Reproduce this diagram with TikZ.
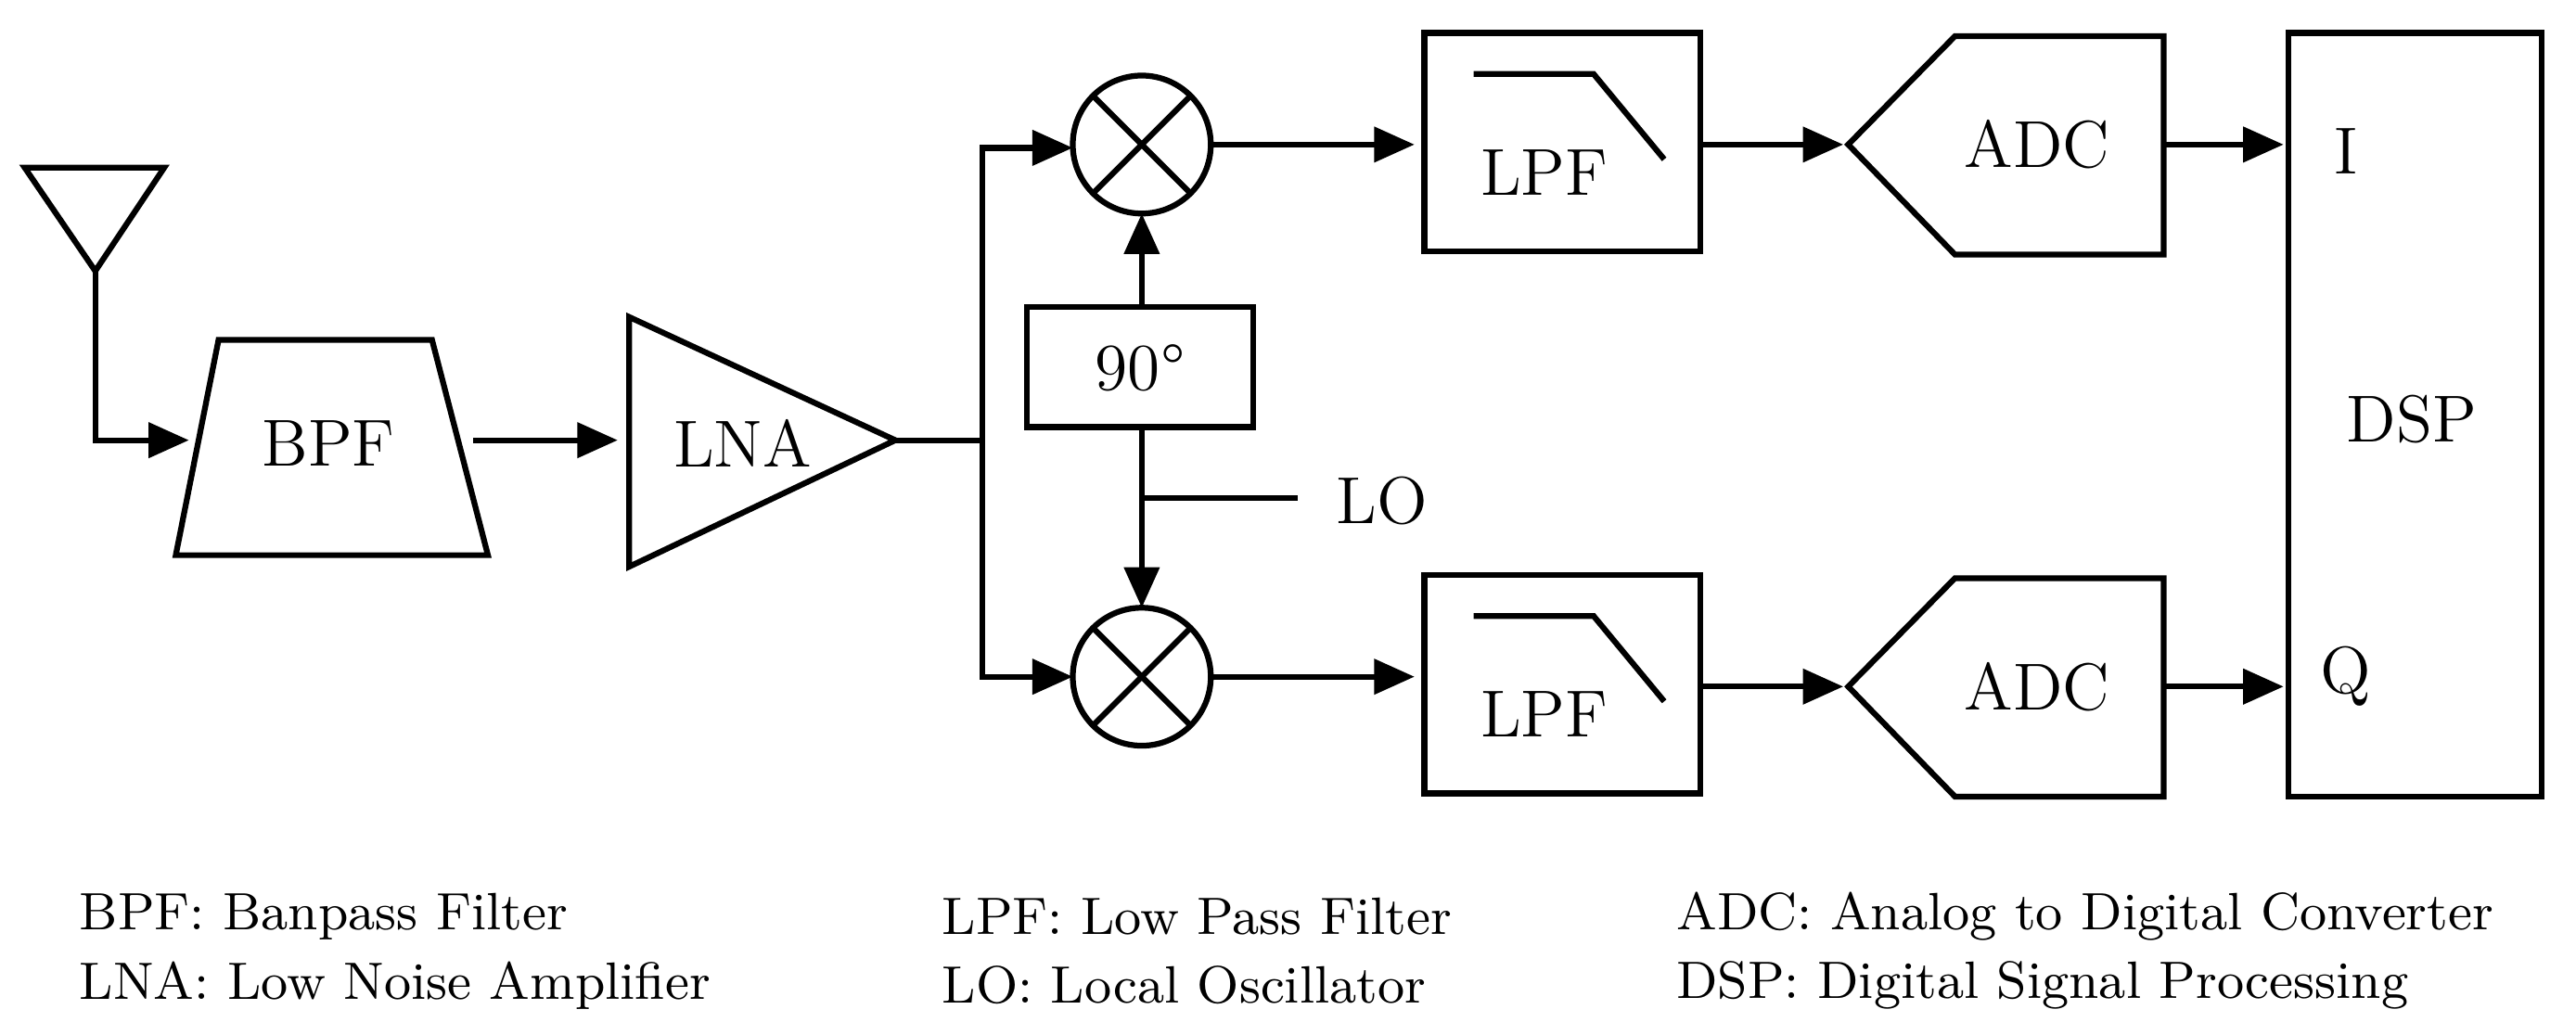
\documentclass[tikz,border=0pt]{standalone}
\usetikzlibrary{arrows.meta}
\begin{document}
\begin{tikzpicture}[x=0.01cm,y=-0.01cm,line width=1pt,
  arr/.style={-{Triangle[length=7pt,width=6pt]}},
  lbl/.style={font=\fontsize{11.5}{12}\selectfont},
  leg/.style={font=\fontsize{9.1}{10}\selectfont,anchor=west}]
\useasboundingbox (0,0) rectangle (1568,630);
% antenna
\draw (15,102) -- (100,102) -- (58,165) -- cycle;
\coordinate (ant) at (58,165);
\coordinate (antc) at (58,268);
% BPF
\draw (133,207) -- (263,207) -- (297,338) -- (107,338) -- cycle;
\node[lbl] (bpf) at (200,270) {BPF};
\coordinate (bpfin) at (115,268);
\draw[arr] (ant) -- (antc) -- (bpfin);
\coordinate (bpfout) at (288,268);
% LNA
\draw (383,193) -- (545,268) -- (383,345) -- cycle;
\node[lbl] (lna) at (452,270) {LNA};
\coordinate (lnain) at (376,268);
\draw[arr] (bpfout) -- (lnain);
\coordinate (lnaout) at (545,268);
\coordinate (split) at (598,268);
\coordinate (st) at (598,90);
\coordinate (sb) at (598,412);
\draw (lnaout) -- (split);
% mixers
\foreach \n/\y in {mt/88,mb/412}{
  \draw (695,\y) circle (42);
  \draw (695-29.7,\y-29.7) -- (695+29.7,\y+29.7);
  \draw (695-29.7,\y+29.7) -- (695+29.7,\y-29.7);
  \coordinate (\n) at (695,\y);
}
\draw[arr] (split) -- (st) -- (653,90);
\draw[arr] (split) -- (sb) -- (653,412);
% 90 box
\draw (625,187) rectangle (763,260);
\node[lbl] (ph) at (694,224) {90°};
\draw[arr] (695,187) -- (695,130);
\draw[arr] (695,260) -- (695,370);
\coordinate (lo) at (695,303);
\coordinate (loend) at (790,303);
\draw (lo) -- (loend);
\node[lbl,anchor=west] (lot) at (800,305) {LO};
% LPFs
\foreach \n/\y in {t/20,b/350}{
  \draw (867,\y) rectangle (1035,\y+133);
  \draw (897,\y+25) -- (970,\y+25) -- (1013,\y+77);
  \node[lbl] (lpf\n) at (940,\y+85) {LPF};
}
\draw[arr] (737,88) -- (861,88);
\draw[arr] (737,412) -- (861,412);
% ADCs
\foreach \n/\y in {t/88,b/418}{
  \draw (1125,\y) -- (1190,\y-66) -- (1317,\y-66) -- (1317,\y+67) -- (1190,\y+67) -- cycle;
  \node[lbl] (adc\n) at (1240,\y) {ADC};
}
\draw[arr] (1035,88) -- (1122,88);
\draw[arr] (1035,418) -- (1122,418);
% DSP
\draw (1393,20) rectangle (1547,485);
\node[lbl] (dsp) at (1468,255) {DSP};
\node[lbl] (i) at (1428,92) {I};
\node[lbl] (q) at (1428,412) {Q};
\draw[arr] (1317,88) -- (1390,88);
\draw[arr] (1317,418) -- (1390,418);
% legend
\node[leg] (l1) at (35,558) {BPF: Banpass Filter};
\node[leg] (l2) at (35,600) {LNA: Low Noise Amplifier};
\node[leg] (l3) at (560,558) {LPF: Low Pass Filter};
\node[leg] (l4) at (560,600) {LO: Local Oscillator};
\node[leg] (l5) at (1007,558) {ADC: Analog to Digital Converter};
\node[leg] (l6) at (1007,600) {DSP: Digital Signal Processing};
\end{tikzpicture}
\end{document}
